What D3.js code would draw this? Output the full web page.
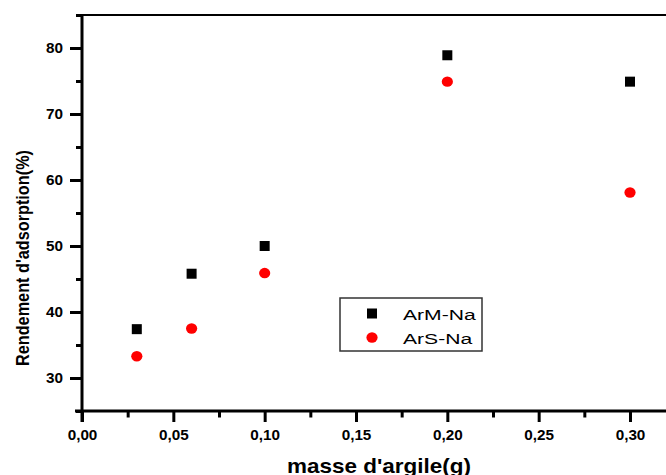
<html>
<head>
<script src="https://d3js.org/d3.v7.min.js"></script>
<style>
  body { margin: 0; background: #fff; }
  text { font-family: "Liberation Sans", Arial, sans-serif; }
</style>
</head>
<body>
<div id="chart"></div>
<script>
// masse d'argile (g)
var masses = [0.03, 0.06, 0.10, 0.20, 0.30];
// rendement d'adsorption (%)
var armNa = [37.4, 45.8, 50.0, 78.9, 74.9];
var arsNa = [33.3, 37.5, 45.9, 74.9, 58.1];
var seriesNames = ["ArM-Na", "ArS-Na"];
var xMajor = [0, 0.05, 0.10, 0.15, 0.20, 0.25, 0.30];
var xMinor = [0.025, 0.075, 0.125, 0.175, 0.225, 0.275];
var yMajor = [30, 40, 50, 60, 70, 80];
var yMinor = [25, 35, 45, 55, 65, 75, 85];

var W = 666, H = 475;
var svg = d3.select("#chart").append("svg").attr("width", W).attr("height", H);

var x = d3.scaleLinear().domain([0, 0.3]).range([82, 630]);
var y = d3.scaleLinear().domain([25, 85]).range([411, 15]);
var fmt = function(d) { return d3.format(".2f")(d).replace(".", ","); };

// stretch a text horizontally (the exported figure is a bit wider than tall)
function stretch(sel, k) {
  sel.each(function() {
    var w = this.getComputedTextLength();
    d3.select(this).attr("textLength", w * k).attr("lengthAdjust", "spacingAndGlyphs");
  });
}

// top frame line
svg.append("line").attr("x1", 82).attr("x2", W + 5).attr("y1", 15).attr("y2", 15)
  .attr("stroke", "#000").attr("stroke-width", 1.8);

// x axis
var gx = svg.append("g").attr("transform", "translate(0,411)");
gx.call(d3.axisBottom(x).tickValues(xMajor).tickSize(11).tickPadding(8).tickFormat(fmt));
gx.append("g").call(d3.axisBottom(x).tickValues(xMinor).tickSize(6.5).tickFormat(""))
  .select(".domain").remove();
gx.select(".domain").attr("d", "M75,0H" + (W + 5));

// y axis
var gy = svg.append("g").attr("transform", "translate(82,0)");
gy.call(d3.axisLeft(y).tickValues(yMajor).tickSize(12).tickPadding(7).tickFormat(d3.format("d")));
gy.append("g").call(d3.axisLeft(y).tickValues(yMinor).tickSize(6).tickFormat(""))
  .select(".domain").remove();
gy.select(".domain").attr("d", "M0,14V422");

svg.selectAll(".domain").attr("stroke", "#000").attr("stroke-width", 3);
svg.selectAll(".tick line").attr("stroke", "#000").attr("stroke-width", 3);
svg.selectAll(".tick text").attr("fill", "#000")
  .style("font-size", "14px").style("font-weight", "bold")
  .style("font-family", "'Liberation Sans', Arial, sans-serif")
  .call(stretch, 1.09);

// axis titles
svg.append("text").attr("x", 379).attr("y", 473).attr("text-anchor", "middle")
  .style("font-size", "21px").style("font-weight", "bold")
  .attr("textLength", 184).attr("lengthAdjust", "spacingAndGlyphs")
  .text("masse d'argile(g)");
svg.append("text").attr("transform", "translate(28.5,258) rotate(-90)").attr("text-anchor", "middle")
  .style("font-size", "18px").style("font-weight", "bold")
  .attr("textLength", 216).attr("lengthAdjust", "spacingAndGlyphs")
  .text("Rendement d'adsorption(%)");

// points
svg.append("g").selectAll("rect").data(masses).join("rect")
  .attr("x", function(d) { return x(d) - 5; })
  .attr("y", function(d, i) { return y(armNa[i]) - 5; })
  .attr("width", 10).attr("height", 10).attr("fill", "#000");
svg.append("g").selectAll("ellipse").data(masses).join("ellipse")
  .attr("cx", function(d) { return x(d); })
  .attr("cy", function(d, i) { return y(arsNa[i]); })
  .attr("rx", 5.6).attr("ry", 5.2).attr("fill", "#ff0000");

// legend
var lg = svg.append("g");
lg.append("rect").attr("x", 340).attr("y", 298).attr("width", 142).attr("height", 53)
  .attr("fill", "#fff").attr("stroke", "#333").attr("stroke-width", 1.5);
lg.append("rect").attr("x", 367).attr("y", 308.5).attr("width", 10).attr("height", 10).attr("fill", "#000");
lg.append("ellipse").attr("cx", 372).attr("cy", 337.5).attr("rx", 5.6).attr("ry", 5.2).attr("fill", "#ff0000");
lg.selectAll("text.lab").data(seriesNames).join("text").attr("class", "lab")
  .attr("x", 403).attr("y", function(d, i) { return 319.5 + i * 24.5; })
  .style("font-size", "15.5px")
  .text(function(d) { return d; })
  .call(stretch, 1.36);
</script>
</body>
</html>
